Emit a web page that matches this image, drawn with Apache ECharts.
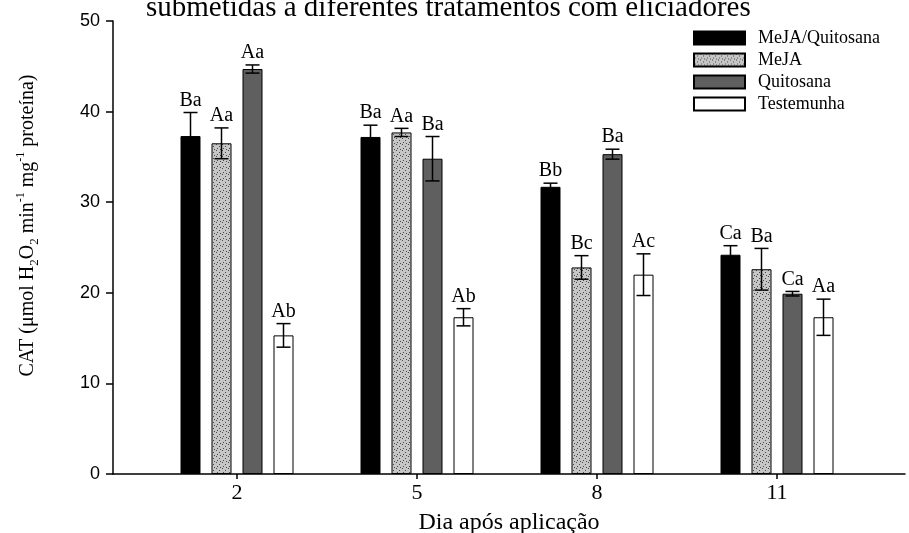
<!DOCTYPE html>
<html>
<head>
<meta charset="utf-8">
<script src="https://cdn.jsdelivr.net/npm/echarts@6/dist/echarts.min.js"></script>
<style>html,body{margin:0;padding:0;background:#fff}#c{width:909px;height:533px}</style>
</head>
<body>
<div id="c"></div>
<script>
const categories = ['2', '5', '8', '11'];
const seriesNames = ['MeJA/Quitosana', 'MeJA', 'Quitosana', 'Testemunha'];
const mejaQuitosana = [37.3, 37.2, 31.7, 24.2];
const mejaQuitosanaErr = [2.6, 1.3, 0.4, 1.0];
const mejaQuitosanaLbl = ['Ba', 'Ba', 'Bb', 'Ca'];
const meja = [36.5, 37.7, 22.8, 22.6];
const mejaErr = [1.7, 0.45, 1.3, 2.3];
const mejaLbl = ['Aa', 'Aa', 'Bc', 'Ba'];
const quitosana = [44.7, 34.8, 35.3, 19.9];
const quitosanaErr = [0.45, 2.45, 0.55, 0.25];
const quitosanaLbl = ['Aa', 'Ba', 'Ba', 'Ca'];
const testemunha = [15.3, 17.3, 22.0, 17.3];
const testemunhaErr = [1.3, 0.95, 2.3, 2.0];
const testemunhaLbl = ['Ab', 'Ab', 'Ac', 'Aa'];
const yTicks = [0, 10, 20, 30, 40, 50];

const values = [mejaQuitosana, meja, quitosana, testemunha];
const errs = [mejaQuitosanaErr, mejaErr, quitosanaErr, testemunhaErr];
const lbls = [mejaQuitosanaLbl, mejaLbl, quitosanaLbl, testemunhaLbl];

// dotted pattern
const pc = document.createElement('canvas');
pc.width = 6; pc.height = 6;
const pctx = pc.getContext('2d');
pctx.fillStyle = '#c6c6c6'; pctx.fillRect(0, 0, 6, 6);
pctx.fillStyle = '#4a4a4a';
pctx.fillRect(0, 0, 1, 1); pctx.fillRect(3, 2, 1, 1); pctx.fillRect(1, 4, 1, 1); pctx.fillRect(4, 5, 1, 1);

const fills = ['#000000', {image: pc, repeat: 'repeat'}, '#5f5f5f', '#ffffff'];
const SERIF = 'Liberation Serif, Times New Roman, serif';
const SANS = 'Liberation Sans, Arial, sans-serif';
const BAR_W = 20, PITCH = 31;

const chart = echarts.init(document.getElementById('c'), null, {renderer: 'canvas'});

const series = [];
seriesNames.forEach((name, s) => {
  series.push({
    name: name, type: 'bar', xAxisIndex: 1, yAxisIndex: 1,
    barWidth: BAR_W, barGap: '55%',
    itemStyle: {color: fills[s], borderColor: '#000', borderWidth: 1},
    data: values[s], z: 2
  });
});
seriesNames.forEach((name, s) => {
  series.push({
    type: 'custom', xAxisIndex: 1, yAxisIndex: 1, z: 5,
    data: values[s].map((v, i) => [i, v, errs[s][i]]),
    renderItem: function (params, api) {
      const i = api.value(0), v = api.value(1), e = api.value(2);
      const base = api.coord([i, v]);
      const x = base[0] + (s - 1.5) * PITCH;
      const yT = api.coord([i, v + e])[1];
      const yB = api.coord([i, v - e])[1];
      const cap = 7;
      const st = {stroke: '#000', lineWidth: 1.5};
      return {type: 'group', children: [
        {type: 'line', shape: {x1: x, y1: yT, x2: x, y2: yB}, style: st},
        {type: 'line', shape: {x1: x - cap, y1: yT, x2: x + cap, y2: yT}, style: st},
        {type: 'line', shape: {x1: x - cap, y1: yB, x2: x + cap, y2: yB}, style: st},
        {type: 'text', style: {text: lbls[s][i], x: x, y: yT - 2, align: 'center', verticalAlign: 'bottom',
          font: '20px ' + SERIF, fill: '#000'}}
      ]};
    }
  });
});

chart.setOption({
  animation: false,
  backgroundColor: '#fff',
  title: {
    text: 'submetidas a diferentes tratamentos com eliciadores',
    left: 146, top: -6, padding: 0,
    textStyle: {fontFamily: SERIF, fontSize: 29, fontWeight: 'normal', color: '#000'}
  },
  legend: {
    orient: 'vertical', left: 693, top: 29, padding: 0,
    itemWidth: 51, itemHeight: 13, itemGap: 4,
    data: seriesNames,
    icon: 'rect',
    textStyle: {fontFamily: SERIF, fontSize: 18, lineHeight: 18, color: '#000', padding: [0, 0, 0, 8]}
  },
  grid: [
    {left: 113, right: 4, top: 21, bottom: 59, containLabel: false, outerBoundsMode: 'none'},
    {left: 147, right: 42, top: 21, bottom: 59, containLabel: false, outerBoundsMode: 'none'}
  ],
  xAxis: [
    {type: 'value', gridIndex: 0, min: 0, max: 1,
     axisLine: {show: true, lineStyle: {color: '#000', width: 1.5}},
     axisTick: {show: false}, axisLabel: {show: false}, splitLine: {show: false},
     name: 'Dia após aplicação', nameLocation: 'middle', nameGap: 37,
     nameTextStyle: {fontFamily: SERIF, fontSize: 24, color: '#000'}},
    {type: 'category', gridIndex: 1, data: categories,
     axisLine: {show: false},
     axisTick: {show: true, alignWithLabel: true, length: 5, lineStyle: {color: '#000', width: 1.5}},
     axisLabel: {fontFamily: SERIF, fontSize: 22, color: '#000', margin: 8}}
  ],
  yAxis: [
    {type: 'value', gridIndex: 0, min: yTicks[0], max: yTicks[yTicks.length - 1], interval: 10,
     axisLine: {show: true, lineStyle: {color: '#000', width: 1.5}},
     axisTick: {show: true, length: 7, lineStyle: {color: '#000', width: 1.5}},
     axisLabel: {fontFamily: SANS, fontSize: 18, color: '#000', margin: 13},
     splitLine: {show: false},
     name: 'CAT (μmol H{sub|2}O{sub|2} min{sup|-1} mg{sup|-1} proteína)',
     nameLocation: 'middle', nameGap: 72,
     nameTextStyle: {fontFamily: SERIF, fontSize: 20, color: '#000', lineHeight: 26, padding: [0, 0, 0, 44],
       rich: {
         sub: {fontFamily: SERIF, fontSize: 13, lineHeight: 13, verticalAlign: 'bottom', color: '#000'},
         sup: {fontFamily: SERIF, fontSize: 12, lineHeight: 12, verticalAlign: 'top', color: '#000'}
       }}},
    {type: 'value', gridIndex: 1, min: 0, max: 50, interval: 10, show: false}
  ],
  series: series
});
</script>
</body>
</html>
